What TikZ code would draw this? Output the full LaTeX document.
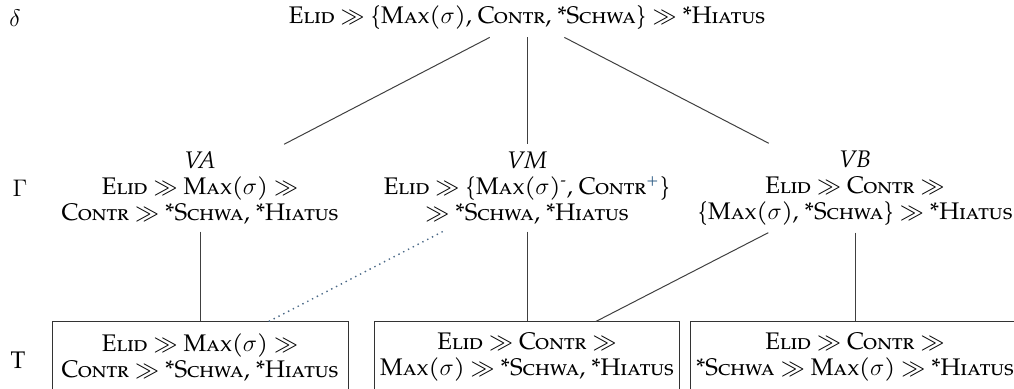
\documentclass[tikz,border=0pt]{standalone}
\usepackage{amsmath,amssymb}
\usepackage{fontspec}
\setmainfont{TeX Gyre Pagella}
\definecolor{supblue}{RGB}{50,95,135}
\definecolor{dotblue}{RGB}{75,105,135}
\begin{document}
\begin{tikzpicture}[x=0.5pt,y=-0.5pt,
  every node/.style={font=\fontsize{12}{13}\selectfont},
  lvl/.style={align=center,inner sep=3.5pt},
  cand/.style={draw=black!80,line width=0.5pt,align=center,inner sep=3pt,minimum height=35pt},
  edge/.style={draw=black!75,line width=0.5pt},
  dotedge/.style={draw=dotblue,line width=0.7pt,dotted}
]
\useasboundingbox (0,0) rectangle (1014,389);
\node (ld) at (15,18) {$\delta$};
\node (lg) at (20,188) {$\Gamma$};
\node (lt) at (18,360) {T};
\node[lvl] (top) at (527,18) {\textsc{Elid} $\gg$ \{\textsc{Max}($\sigma$), \textsc{Contr}, *\textsc{Schwa}\} $\gg$ *\textsc{Hiatus}};
\node[lvl] (va) at (200,188) {\textit{VA}\\ \textsc{Elid} $\gg$ \textsc{Max}($\sigma$) $\gg$\\ \textsc{Contr} $\gg$ *\textsc{Schwa}, *\textsc{Hiatus}};
\node[lvl] (vm) at (527,188) {\textit{VM}\\ \textsc{Elid} $\gg$ \{\textsc{Max}($\sigma$)\textsuperscript{-}, \textsc{Contr}\textsuperscript{\textcolor{supblue}{+}}\}\\ $\gg$ *\textsc{Schwa}, *\textsc{Hiatus}};
\node[lvl] (vb) at (855,188) {\textit{VB}\\ \textsc{Elid} $\gg$ \textsc{Contr} $\gg$\\ \{\textsc{Max}($\sigma$), *\textsc{Schwa}\} $\gg$ *\textsc{Hiatus}};
\node[cand,minimum width=148pt] (c1) at (200,357) {\textsc{Elid} $\gg$ \textsc{Max}($\sigma$) $\gg$\\ \textsc{Contr} $\gg$ *\textsc{Schwa}, *\textsc{Hiatus}};
\node[cand,minimum width=151pt] (c2) at (527,357) {\textsc{Elid} $\gg$ \textsc{Contr} $\gg$\\ \textsc{Max}($\sigma$) $\gg$ *\textsc{Schwa}, *\textsc{Hiatus}};
\node[cand,minimum width=160pt] (c3) at (855,357) {\textsc{Elid} $\gg$ \textsc{Contr} $\gg$\\ *\textsc{Schwa} $\gg$ \textsc{Max}($\sigma$) $\gg$ *\textsc{Hiatus}};
\draw[edge] (top) -- (va);
\draw[edge] (top) -- (vm);
\draw[edge] (top) -- (vb);
\draw[edge] (va) -- (c1);
\draw[dotedge] (vm) -- (c1);
\draw[edge] (vm) -- (c2);
\draw[edge] (vb) -- (c2);
\draw[edge] (vb) -- (c3);
\end{tikzpicture}
\end{document}
